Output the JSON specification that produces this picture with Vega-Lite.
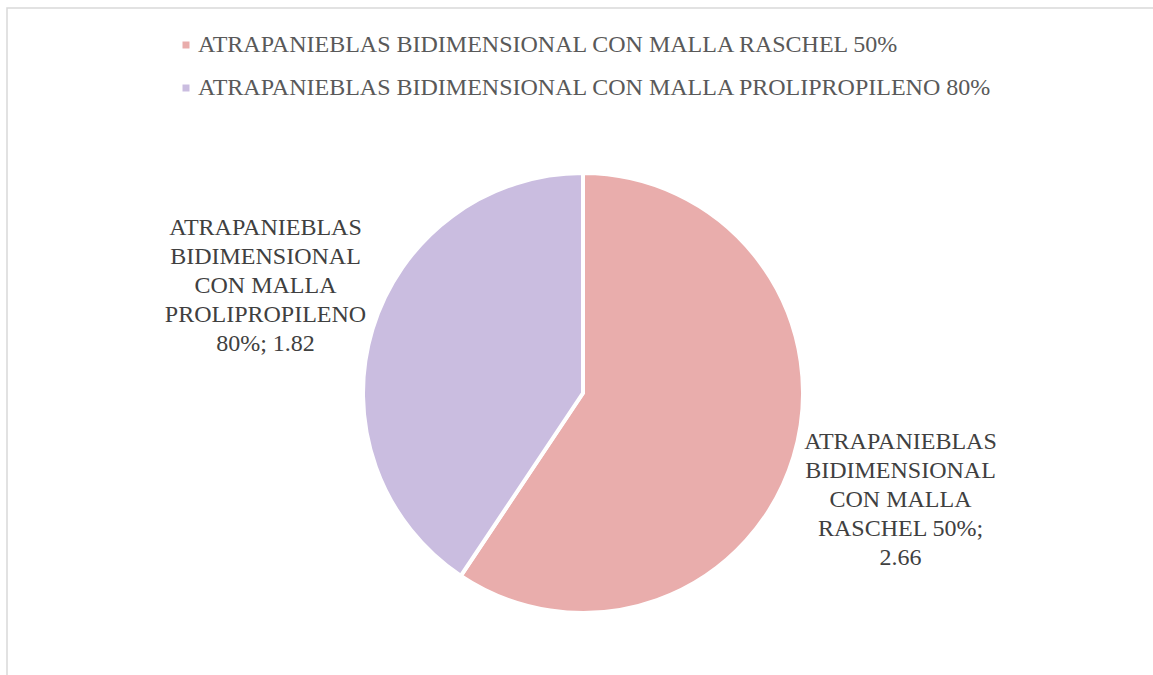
{
  "$schema": "https://vega.github.io/schema/vega-lite/v6.json",
  "width": 1152,
  "height": 770,
  "autosize": {"type": "none"},
  "padding": {"left": 7, "top": 8, "right": 0, "bottom": 0},
  "background": "white",
  "view": {"stroke": "#d9d9d9", "strokeWidth": 1.5},
  "config": {
    "view": {"stroke": "#d9d9d9", "strokeWidth": 1.5},
    "font": "Liberation Serif, Times New Roman, serif"
  },
  "data": {
    "values": [
      {"serie": "ATRAPANIEBLAS BIDIMENSIONAL CON MALLA RASCHEL 50%", "valor": 2.66, "orden": 1, "etiqueta": ["ATRAPANIEBLAS", "BIDIMENSIONAL", "CON MALLA", "RASCHEL 50%;", "2.66"]},
      {"serie": "ATRAPANIEBLAS BIDIMENSIONAL CON MALLA PROLIPROPILENO 80%", "valor": 1.82, "orden": 2, "etiqueta": ["ATRAPANIEBLAS", "BIDIMENSIONAL", "CON MALLA", "PROLIPROPILENO", "80%; 1.82"]}
    ]
  },
  "encoding": {
    "theta": {"field": "valor", "type": "quantitative", "stack": true},
    "order": {"field": "orden", "type": "quantitative"}
  },
  "layer": [
    {
      "mark": {"type": "arc", "outerRadius": 220, "stroke": "white", "strokeWidth": 4},
      "encoding": {
        "color": {
          "field": "serie",
          "type": "nominal",
          "sort": ["ATRAPANIEBLAS BIDIMENSIONAL CON MALLA RASCHEL 50%", "ATRAPANIEBLAS BIDIMENSIONAL CON MALLA PROLIPROPILENO 80%"],
          "scale": {
            "domain": ["ATRAPANIEBLAS BIDIMENSIONAL CON MALLA RASCHEL 50%", "ATRAPANIEBLAS BIDIMENSIONAL CON MALLA PROLIPROPILENO 80%"],
            "range": ["#e9adac", "#cabde0"]
          },
          "legend": {
            "orient": "none",
            "legendX": 167,
            "legendY": 25,
            "title": null,
            "symbolType": "square",
            "symbolSize": 49,
            "symbolStrokeWidth": 0,
            "labelFont": "Liberation Serif, Times New Roman, serif",
            "labelFontSize": 24,
            "labelColor": "#595959",
            "labelLimit": 0,
            "rowPadding": 19,
            "labelOffset": 0,
            "values": ["ATRAPANIEBLAS BIDIMENSIONAL CON MALLA RASCHEL 50%", "ATRAPANIEBLAS BIDIMENSIONAL CON MALLA PROLIPROPILENO 80%"]
          }
        }
      }
    },
    {
      "mark": {"type": "text", "radius": 335, "thetaOffset": 0.03, "dy": -58, "font": "Liberation Serif, Times New Roman, serif", "fontSize": 24, "color": "#404040", "lineHeight": 29, "align": "center", "baseline": "middle"},
      "encoding": {
        "text": {"field": "etiqueta"}
      }
    }
  ]
}
